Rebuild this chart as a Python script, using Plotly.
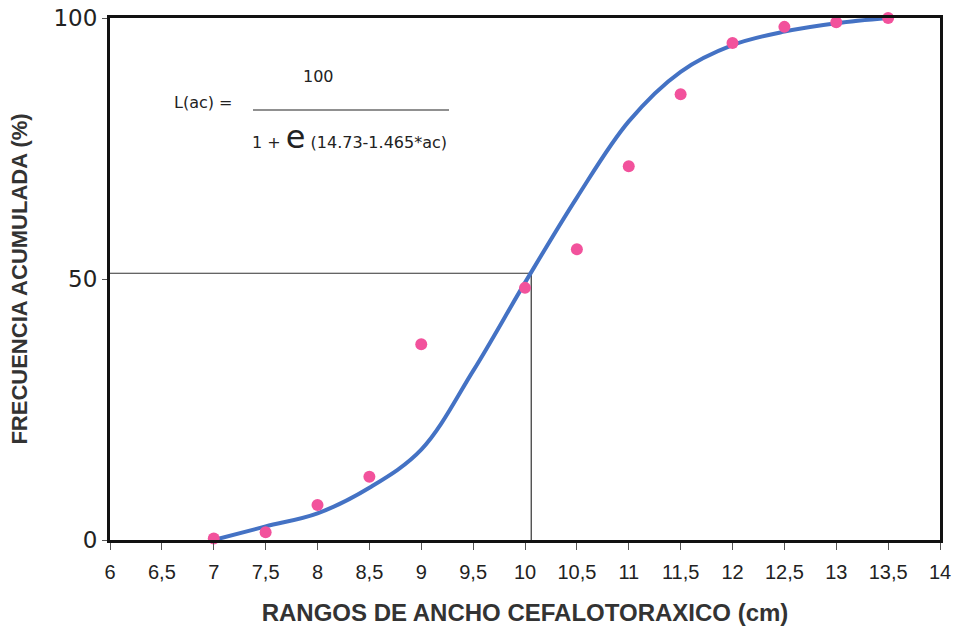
import plotly.graph_objects as go

# Data
x_obs = [7, 7.5, 8, 8.5, 9, 10, 10.5, 11, 11.5, 12, 12.5, 13, 13.5]
y_obs = [0.3, 1.5, 6.7, 12.1, 37.5, 48.3, 55.7, 71.6, 85.4, 95.2, 98.3, 99.2, 100.0]

x_fit = [7, 7.5, 8, 8.5, 9, 9.5, 10, 10.5, 11, 11.5, 12, 12.5, 13, 13.5]
y_fit = [0.0, 2.6, 5.1, 10.0, 17.3, 32.4, 49.3, 65.6, 80.2, 89.7, 94.8, 97.4, 99.0, 100.0]

x_ticks = [6, 6.5, 7, 7.5, 8, 8.5, 9, 9.5, 10, 10.5, 11, 11.5, 12, 12.5, 13, 13.5, 14]
x_ticklabels = [str(v).replace(".", ",") if v != int(v) else str(int(v)) for v in x_ticks]
y_ticks = [0, 50, 100]

ref_x = 10.06
ref_y = 51.1

fig = go.Figure()

fig.add_trace(go.Scatter(x=[6, ref_x, ref_x], y=[ref_y, ref_y, 0], mode="lines",
                         line=dict(color="#333333", width=1.2), showlegend=False, hoverinfo="skip"))
fig.add_trace(go.Scatter(x=x_fit, y=y_fit, mode="lines",
                         line=dict(color="#4472C4", width=4, shape="spline", smoothing=1.0),
                         showlegend=False))
fig.add_trace(go.Scatter(x=x_obs, y=y_obs, mode="markers", marker=dict(color="#F2529C", size=12),
                         showlegend=False, cliponaxis=False))

L, R, T, B = 110, 940, 18, 540
W, H = R - L, B - T
def px(x):
    return (x - L) / W
def py(y):
    return (B - y) / H

eq_font = dict(family="DejaVu Sans, Liberation Sans", size=16, color="#222222")
fig.add_annotation(x=px(172), y=py(102), xref="paper", yref="paper", text="L(ac) =", showarrow=False,
                   xanchor="left", yanchor="middle", font=eq_font)
fig.add_annotation(x=px(318), y=py(77), xref="paper", yref="paper", text="100", showarrow=False,
                   xanchor="center", yanchor="middle", font=eq_font)
fig.add_annotation(x=px(250), y=py(137), xref="paper", yref="paper",
                   text="1 + <span style='font-size:32px'>e</span> (14.73-1.465*ac)", showarrow=False,
                   xanchor="left", yanchor="middle", font=eq_font)
fig.add_shape(type="line", xref="paper", yref="paper", x0=px(253), x1=px(449), y0=py(110), y1=py(110),
              line=dict(color="#222222", width=1.2))

fig.update_layout(
    width=968, height=627,
    margin=dict(l=L, r=968 - R, t=T, b=627 - B, autoexpand=False),
    paper_bgcolor="white", plot_bgcolor="white",
    font=dict(family="Liberation Sans, Arial", color="#222222"),
    xaxis=dict(range=[6, 14], tickvals=x_ticks, ticktext=x_ticklabels, showgrid=False, zeroline=False,
               ticks="outside", ticklen=7, tickcolor="#555555", ticklabelstandoff=5, automargin=False,
               tickfont=dict(family="Liberation Sans, Arial", size=20, color="#222222"),
               showline=True, linecolor="#111111", linewidth=3, mirror=True,
               title=dict(text="<b>RANGOS DE ANCHO CEFALOTORAXICO (cm)</b>", standoff=23,
                          font=dict(family="Liberation Sans, Arial", size=24, color="#333333"))),
    yaxis=dict(range=[0, 100], tickvals=y_ticks, showgrid=False, zeroline=False,
               ticks="outside", ticklen=5, tickcolor="#555555", automargin=False,
               tickfont=dict(family="DejaVu Sans, Liberation Sans", size=23, color="#222222"),
               showline=True, linecolor="#111111", linewidth=3, mirror=True,
               title=dict(text="<b>FRECUENCIA ACUMULADA (%)</b>", standoff=20,
                          font=dict(family="Liberation Sans, Arial", size=22, color="#333333"))),
)

fig.write_html("out.html")
